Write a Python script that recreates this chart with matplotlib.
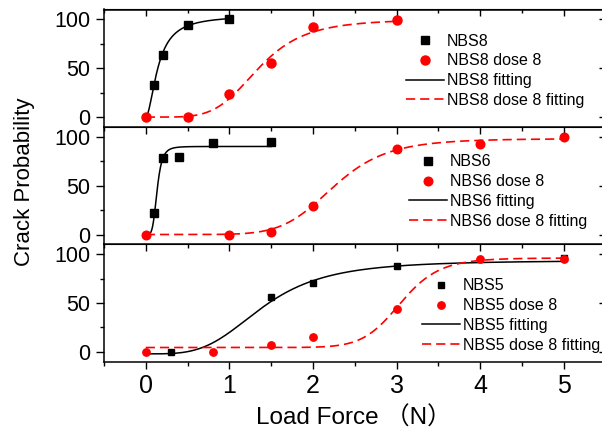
import numpy as np
import matplotlib
matplotlib.use("Agg")
import matplotlib.pyplot as plt
from matplotlib.ticker import MultipleLocator

plt.rcParams['font.family'] = ['Liberation Sans', 'Noto Sans CJK SC']

# measured crack probabilities (%) vs. load force (N)
force8 = [0.1, 0.2, 0.5, 1.0]
nbs8 = [33, 64, 94, 100]
force8_dose = [0, 0.5, 1.0, 1.5, 2.0, 3.0]
nbs8_dose = [0, 0, 24, 55, 92, 99]

force6 = [0.1, 0.2, 0.4, 0.8, 1.5]
nbs6 = [22, 78, 79, 94, 95]
force6_dose = [0, 1.0, 1.5, 2.0, 3.0, 4.0, 5.0]
nbs6_dose = [0, 0, 3, 29, 87, 93, 100]

force5 = [0.3, 1.5, 2.0, 3.0, 5.0]
nbs5 = [0, 56, 70, 88, 96]
force5_dose = [0, 0.8, 1.5, 2.0, 3.0, 4.0, 5.0]
nbs5_dose = [0, 0, 7, 15, 44, 95, 95]

# logistic fit parameters: (A1, A2, x0, p, x_max)
fit8 = (0, 104, 0.15, 1.8, 1.0)
fit8_dose = (0, 100, 1.35, 4.83, 3.0)
fit6 = (0, 90, 0.135, 4.5, 1.5)
fit6_dose = (0, 98, 2.25, 7.0, 5.0)
fit5 = (-2, 93.5, 1.4, 3.6, 5.0)
fit5_dose = (4.5, 96, 3.05, 13.2, 5.0)

names = ['NBS8', 'NBS6', 'NBS5']


def logistic(params):
    a1, a2, x0, p, xmax = params
    x = np.linspace(0, xmax, 300)
    return x, a1 + (a2 - a1) * x**p / (x0**p + x**p)


panels = [
    (force8, nbs8, force8_dose, nbs8_dose, fit8, fit8_dose),
    (force6, nbs6, force6_dose, nbs6_dose, fit6, fit6_dose),
    (force5, nbs5, force5_dose, nbs5_dose, fit5, fit5_dose),
]

fig = plt.figure(figsize=(6.02, 4.33), dpi=100)
W, H = 602.0, 433.0
left_px, width_px = 104.0, 501.6
top_px, panel_h = 9.5, 117.4
leg_x = [0.602, 0.608, 0.633]
leg_y = [0.795, 0.765, 0.71]
msq = [6, 5.5, 4.6]
mci = [6.5, 6.2, 5.3]

axes = []
for i, (xb, yb, xr, yr, fb, fr) in enumerate(panels):
    bottom = 1 - (top_px + panel_h * (i + 1)) / H
    ax = fig.add_axes([left_px / W, bottom, width_px / W, panel_h / H])
    ax.set_zorder(3 - i)
    name = names[i]
    ax.plot(xb, yb, 's', color='black', ms=msq[i], label=name, zorder=3)
    ax.plot(xr, yr, 'o', color='red', ms=mci[i], label=name + ' dose 8', zorder=4)
    x, y = logistic(fb)
    ax.plot(x, y, '-', color='black', lw=1.1, label=name + ' fitting', zorder=2)
    x, y = logistic(fr)
    ax.plot(x, y, '--', color='red', lw=1.2, dashes=(5.5, 3),
            label=name + ' dose 8 fitting', zorder=2)

    ax.set_xlim(-0.5, 5.5)
    ax.set_ylim(-10, 110)
    ax.yaxis.set_major_locator(MultipleLocator(50))
    ax.yaxis.set_minor_locator(MultipleLocator(25))
    ax.xaxis.set_major_locator(MultipleLocator(1))
    ax.xaxis.set_minor_locator(MultipleLocator(0.5))
    ax.tick_params(axis='y', which='major', direction='out', length=6, width=1,
                   labelsize=15.5, pad=4)
    ax.tick_params(axis='y', which='minor', direction='out', length=3, width=1)
    for s in ax.spines.values():
        s.set_linewidth(1.1)

    top = ax.secondary_xaxis('top')
    top.xaxis.set_major_locator(MultipleLocator(1))
    top.xaxis.set_minor_locator(MultipleLocator(0.5))
    top.tick_params(which='major', direction='in', length=5, width=1, labeltop=False)
    top.tick_params(which='minor', direction='in', length=3, width=1)
    right = ax.secondary_yaxis('right')
    right.yaxis.set_major_locator(MultipleLocator(50))
    right.tick_params(direction='in', length=5, width=1, labelright=False)

    if i < 2:
        ax.tick_params(axis='x', which='both', length=0, labelbottom=False)
    else:
        ax.tick_params(axis='x', which='major', direction='out', length=5, width=1,
                       labelsize=18, pad=4)
        ax.tick_params(axis='x', which='minor', direction='out', length=3, width=1)

    ax.legend(loc='upper left', bbox_to_anchor=(leg_x[i], leg_y[i]), frameon=False,
              fontsize=11.5, borderpad=0, borderaxespad=0, handlelength=2.4,
              handletextpad=0.17, labelspacing=0.3, numpoints=1)
    axes.append(ax)

fig.text(25 / W, 1 - 182 / H, 'Crack Probability', rotation=90, fontsize=16,
         ha='center', va='center')
fig.text(354 / W, 1 - 418 / H, 'Load Force （N）', fontsize=17.5,
         ha='center', va='center')

fig.savefig('out.png', dpi=100)
